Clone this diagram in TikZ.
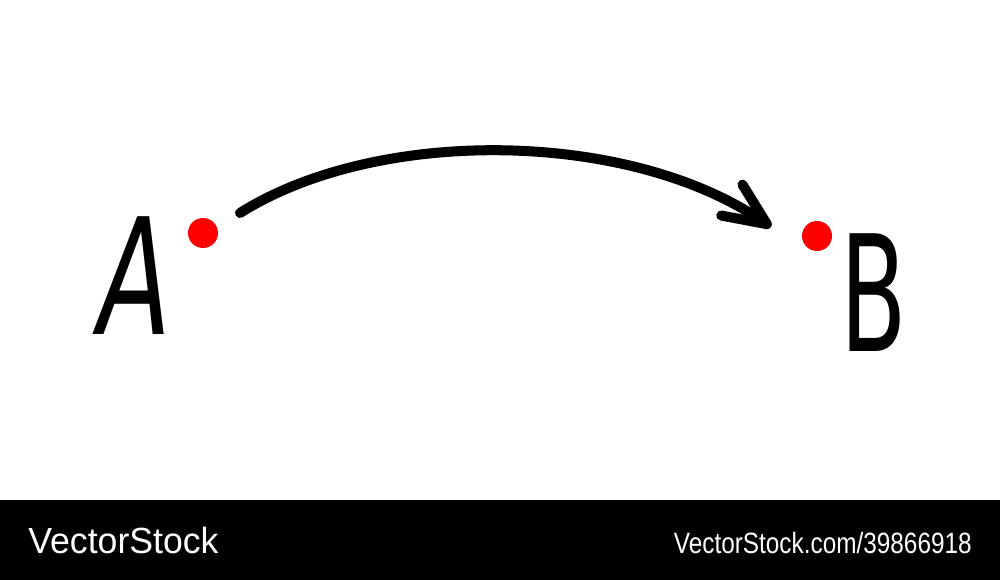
\documentclass[tikz,border=0pt]{standalone}
\usepackage{fontspec}
\setmainfont{DejaVu Sans}
\newfontfamily\stockfont{Liberation Sans}
\usetikzlibrary{positioning}
\usetikzlibrary{arrows.meta}

\tikzset{
  letter/.style={inner sep=0pt, font=\fontsize{92}{92}\selectfont, transform shape},
  spot/.style={circle, fill=red, inner sep=0pt, minimum size=30},
  stocktext/.style={text=white, inner sep=0pt, font=\stockfont, transform shape}
}

\begin{document}
\begin{tikzpicture}[x=0.02cm, y=-0.02cm]
  % Fix the size of the picture
  \useasboundingbox (0,0) rectangle (1000,580);

  % Letters and their points
  \node[letter, xscale=0.66, anchor=base] (A) at (135,335) {\itshape A};
  \node[letter, xscale=0.6, anchor=base] (B) at (874,352) {B};
  \node[spot, minimum size=0.6cm] (dotA) at (203,233) {};
  \node[spot, minimum size=0.6cm] (dotB) at (817,236) {};

  % Curved arrow from A to B
  \coordinate (arcstart) at (240,213);
  \coordinate (arctip) at (771,227);
  \draw[line width=5.7pt, line cap=round,
        -{Straight Barb[length=0.85cm, width=0.75cm, round]}]
    (arcstart) .. controls (378,126) and (630,130) .. (arctip);

  % Banner at the bottom
  \fill[black] (0,500) rectangle (1000,580);
  \node[stocktext, anchor=base west, xscale=0.98,
        font=\stockfont\fontsize{20.7}{20.7}\selectfont] (logo) at (28,553) {VectorStock};
  \node[stocktext, anchor=base east, xscale=0.83,
        font=\stockfont\fontsize{16.7}{16.7}\selectfont] (link) at (972,553) {VectorStock.com/39866918};
\end{tikzpicture}
\end{document}
